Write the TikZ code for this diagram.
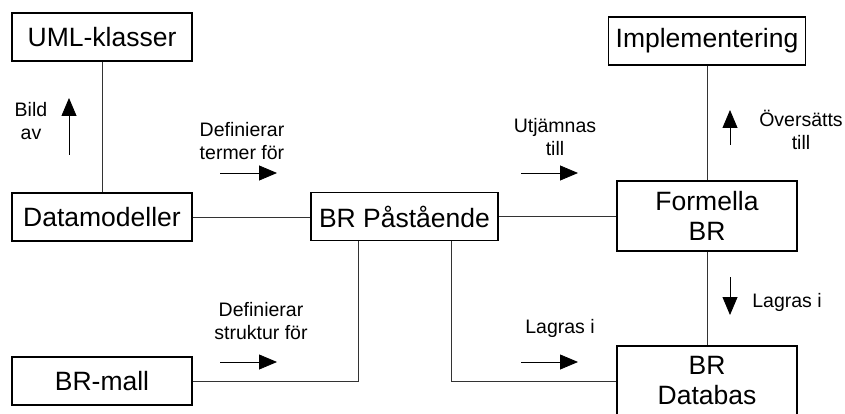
\documentclass[tikz,border=0pt]{standalone}
\usepackage{fontspec}
\setmainfont{Liberation Sans}
\usetikzlibrary{arrows.meta}
\begin{document}
\begin{tikzpicture}[x=1pt,y=-1pt,
  box/.style={draw=black,line width=1.8pt,minimum height=48pt,inner sep=0pt,
    font=\fontsize{26.5}{30}\selectfont,align=center},
  conn/.style={line width=0.9pt,draw=black!80},
  flow/.style={line width=0.8pt,-{Triangle[length=18pt,width=15pt]}},
  lbl/.style={font=\fontsize{19.5}{23.5}\selectfont,align=center,inner sep=0pt}]
\useasboundingbox (0,0) rectangle (845,414);
% boxes
\node[box,minimum width=180pt] (uml) at (102,37) {UML-klasser};
\node[box,minimum width=180pt] (dm) at (102,217) {Datamodeller};
\node[box,minimum width=180pt] (brmall) at (102,381) {BR-mall};
\node[box,minimum width=187pt] (pa) at (404.5,216.5) {BR Påstående};
\node[box,minimum width=197pt] (im) at (707,41) {Implementering};
\node[box,minimum width=180pt,minimum height=70pt] (fo) at (707,216) {Formella\\BR};
\node[box,minimum width=180pt,minimum height=70pt] (db) at (707,381) {BR\\Databas};
% connectors
\coordinate (k1) at (358,381);
\coordinate (k2) at (451,381);
\draw[conn] (uml) -- (dm);
\draw[conn] (dm.east) -- (dm.east -| pa.west);
\draw[conn] (pa.east) -- (pa.east -| fo.west);
\draw[conn] (pa.south -| k1) |- (brmall.east);
\draw[conn] (pa.south -| k2) |- (db.west);
\draw[conn] (im.south -| fo.north) -- (fo.north);
\draw[conn] (fo) -- (db);
% direction arrows
\coordinate (a1s) at (69,155); \coordinate (a1e) at (69,98);
\coordinate (a2s) at (220,173); \coordinate (a2e) at (277,173);
\coordinate (a3s) at (220,362); \coordinate (a3e) at (277,362);
\coordinate (a4s) at (521,173); \coordinate (a4e) at (578,173);
\coordinate (a5s) at (521,362); \coordinate (a5e) at (578,362);
\coordinate (a6s) at (730,145); \coordinate (a6e) at (730,110);
\coordinate (a7s) at (730,277); \coordinate (a7e) at (730,315);
\draw[flow] (a1s) -- (a1e);
\draw[flow] (a2s) -- (a2e);
\draw[flow] (a3s) -- (a3e);
\draw[flow] (a4s) -- (a4e);
\draw[flow] (a5s) -- (a5e);
\draw[flow] (a6s) -- (a6e);
\draw[flow] (a7s) -- (a7e);
% labels
\node[lbl] (l1) at (31,121) {Bild\\av};
\node[lbl] (l2) at (242,141) {Definierar\\termer för};
\node[lbl] (l3) at (261,321) {Definierar\\struktur för};
\node[lbl] (l4) at (555,137) {Utjämnas\\till};
\node[lbl] (l5) at (560,328) {Lagras i};
\node[lbl] (l6) at (801,130) {Översätts\\till};
\node[lbl] (l7) at (787,302) {Lagras i};
\end{tikzpicture}
\end{document}
